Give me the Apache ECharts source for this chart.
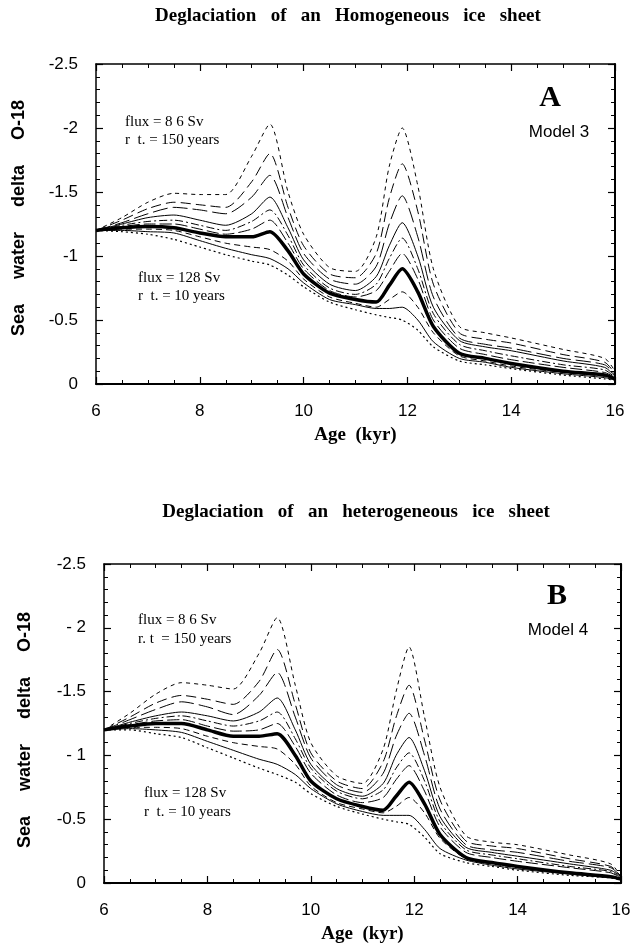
<!DOCTYPE html>
<html>
<head>
<meta charset="utf-8">
<script src="https://cdn.jsdelivr.net/npm/echarts/dist/echarts.min.js"></script>
<style>
  html, body { margin: 0; padding: 0; background: #fff; }
  #chart { width: 637px; height: 946px; }
</style>
</head>
<body>
<div id="chart"></div>
<script>
// age (kyr) sample points shared by all curves
var ages = [6, 6.5, 7, 7.5, 8, 8.5, 9, 9.35, 9.7, 10, 10.5, 11, 11.4, 11.65, 11.9, 12.2, 12.5, 13, 13.5, 14, 15, 15.8, 16];

// panel A - homogeneous ice sheet (Model 3), from flux 8.6 Sv (top) to 128 Sv (bottom)
var a1 = [-1.2, -1.3, -1.42, -1.49, -1.48, -1.48, -1.78, -2.03, -1.5, -1.17, -0.91, -0.88, -1.15, -1.7, -2.0, -1.55, -0.9, -0.45, -0.4, -0.36, -0.27, -0.2, -0.1];
var a2 = [-1.2, -1.28, -1.37, -1.42, -1.4, -1.38, -1.58, -1.8, -1.38, -1.08, -0.86, -0.83, -1.02, -1.45, -1.72, -1.35, -0.78, -0.4, -0.35, -0.32, -0.23, -0.17, -0.08];
var a3 = [-1.2, -1.26, -1.33, -1.38, -1.36, -1.33, -1.46, -1.63, -1.3, -1.02, -0.82, -0.78, -0.92, -1.25, -1.47, -1.15, -0.68, -0.36, -0.31, -0.28, -0.2, -0.15, -0.07];
var a4 = [-1.2, -1.25, -1.3, -1.32, -1.28, -1.24, -1.33, -1.46, -1.22, -0.97, -0.78, -0.73, -0.84, -1.08, -1.26, -1.0, -0.6, -0.34, -0.29, -0.26, -0.18, -0.13, -0.06];
var a5 = [-1.2, -1.24, -1.27, -1.28, -1.24, -1.2, -1.27, -1.36, -1.16, -0.93, -0.75, -0.7, -0.78, -0.98, -1.14, -0.9, -0.55, -0.31, -0.26, -0.22, -0.15, -0.11, -0.05];
var a6 = [-1.2, -1.23, -1.25, -1.25, -1.21, -1.17, -1.21, -1.28, -1.1, -0.9, -0.73, -0.68, -0.73, -0.88, -1.02, -0.82, -0.5, -0.28, -0.23, -0.19, -0.13, -0.09, -0.05];
var a7 = [-1.2, -1.22, -1.23, -1.22, -1.18, -1.15, -1.15, -1.19, -1.04, -0.86, -0.71, -0.66, -0.64, -0.77, -0.9, -0.72, -0.45, -0.24, -0.2, -0.16, -0.1, -0.07, -0.04];
var a8 = [-1.2, -1.21, -1.21, -1.2, -1.15, -1.1, -1.07, -1.05, -0.96, -0.82, -0.68, -0.63, -0.6, -0.66, -0.72, -0.6, -0.4, -0.22, -0.18, -0.14, -0.09, -0.06, -0.04];
var a9 = [-1.2, -1.2, -1.19, -1.18, -1.12, -1.06, -1.01, -0.98, -0.9, -0.79, -0.66, -0.62, -0.59, -0.59, -0.6, -0.5, -0.33, -0.2, -0.17, -0.13, -0.08, -0.05, -0.03];
var a10 = [-1.2, -1.19, -1.17, -1.13, -1.07, -1.01, -0.96, -0.93, -0.85, -0.76, -0.64, -0.58, -0.54, -0.52, -0.5, -0.42, -0.29, -0.18, -0.15, -0.12, -0.07, -0.04, -0.03];

// panel B - heterogeneous ice sheet (Model 4)
var b1 = [-1.2, -1.33, -1.48, -1.57, -1.55, -1.52, -1.8, -2.08, -1.55, -1.1, -0.84, -0.78, -1.05, -1.5, -1.85, -1.3, -0.75, -0.37, -0.32, -0.3, -0.22, -0.15, -0.05];
var b2 = [-1.2, -1.3, -1.41, -1.47, -1.44, -1.4, -1.58, -1.83, -1.4, -1.02, -0.8, -0.74, -0.95, -1.3, -1.55, -1.12, -0.65, -0.33, -0.29, -0.27, -0.19, -0.13, -0.05];
var b3 = [-1.2, -1.28, -1.36, -1.42, -1.38, -1.32, -1.47, -1.65, -1.3, -0.98, -0.77, -0.71, -0.86, -1.15, -1.33, -1.0, -0.58, -0.3, -0.26, -0.24, -0.17, -0.12, -0.05];
var b4 = [-1.2, -1.26, -1.31, -1.34, -1.31, -1.27, -1.34, -1.45, -1.2, -0.93, -0.74, -0.68, -0.78, -1.0, -1.14, -0.88, -0.52, -0.28, -0.24, -0.21, -0.15, -0.1, -0.05];
var b5 = [-1.2, -1.25, -1.29, -1.31, -1.27, -1.23, -1.27, -1.34, -1.13, -0.9, -0.72, -0.66, -0.73, -0.9, -1.02, -0.8, -0.48, -0.26, -0.22, -0.19, -0.13, -0.09, -0.04];
var b6 = [-1.2, -1.24, -1.27, -1.28, -1.23, -1.19, -1.2, -1.25, -1.07, -0.86, -0.69, -0.63, -0.67, -0.81, -0.92, -0.72, -0.44, -0.24, -0.2, -0.17, -0.12, -0.08, -0.04];
var b7 = [-1.2, -1.23, -1.25, -1.25, -1.2, -1.15, -1.15, -1.17, -1.0, -0.8, -0.66, -0.6, -0.57, -0.68, -0.79, -0.62, -0.38, -0.2, -0.16, -0.13, -0.08, -0.05, -0.03];
var b8 = [-1.2, -1.22, -1.22, -1.21, -1.15, -1.1, -1.07, -1.05, -0.93, -0.76, -0.63, -0.58, -0.55, -0.6, -0.67, -0.55, -0.35, -0.19, -0.15, -0.12, -0.08, -0.05, -0.03];
var b9 = [-1.2, -1.21, -1.2, -1.18, -1.11, -1.04, -0.97, -0.93, -0.85, -0.74, -0.62, -0.56, -0.53, -0.53, -0.53, -0.42, -0.27, -0.18, -0.14, -0.11, -0.07, -0.04, -0.03];
var b10 = [-1.2, -1.2, -1.17, -1.14, -1.06, -0.98, -0.9, -0.85, -0.79, -0.7, -0.6, -0.54, -0.5, -0.48, -0.46, -0.36, -0.23, -0.16, -0.13, -0.1, -0.06, -0.04, -0.02];

// tick labels of the delta O-18 axis
var yTicksA = {'-2.5': '-2.5', '-2': '-2', '-1.5': '-1.5', '-1': '-1', '-0.5': '-0.5', '0': '0'};
var yTicksB = {'-2.5': '-2.5', '-2': '- 2', '-1.5': '-1.5', '-1': '- 1', '-0.5': '-0.5', '0': '0'};

// line style of each curve, same order in both panels
var dashes = [[4, 4], [10, 5], [15, 5], 'solid', [8, 3, 2, 3], [12, 4], 'solid', [6, 4], 'solid', [2, 3]];
var widths = [1, 1, 1, 1, 1, 1, 3.5, 1, 1, 1.2];

var sans = 'Liberation Sans';
var serif = 'Liberation Serif';

function xAxes(grid, name) {
    var tick = { inside: true, length: 7, lineStyle: { color: '#000', width: 1.2 } };
    var minor = { show: true, splitNumber: 4, length: 4, lineStyle: { color: '#000', width: 1 } };
    return [{
        gridIndex: grid, type: 'value', min: 6, max: 16, interval: 2, position: 'bottom',
        axisLine: { show: true, onZero: false, lineStyle: { color: '#000', width: 2 } },
        axisTick: tick, minorTick: minor, splitLine: { show: false },
        axisLabel: { color: '#000', fontFamily: sans, fontSize: 17, margin: 19 },
        name: name, nameLocation: 'middle', nameGap: 42,
        nameTextStyle: { color: '#000', fontFamily: serif, fontWeight: 'bold', fontSize: 19 }
    }, {
        gridIndex: grid, type: 'value', min: 6, max: 16, interval: 2, position: 'top',
        axisLine: { show: true, onZero: false, lineStyle: { color: '#000', width: 1.5 } },
        axisTick: tick, minorTick: minor, splitLine: { show: false },
        axisLabel: { show: false }
    }];
}

function yAxes(grid, labels) {
    var tick = { inside: true, length: 7, lineStyle: { color: '#000', width: 1.2 } };
    var minor = { show: true, splitNumber: 5, length: 4, lineStyle: { color: '#000', width: 1 } };
    return [{
        gridIndex: grid, type: 'value', min: -2.5, max: 0, interval: 0.5, inverse: true, position: 'left',
        axisLine: { show: true, onZero: false, lineStyle: { color: '#000', width: 1.5 } },
        axisTick: tick, minorTick: minor, splitLine: { show: false },
        axisLabel: {
            color: '#000', fontFamily: sans, fontSize: 17, margin: 18,
            formatter: function (v) { return labels[String(v)] || String(v); }
        }
    }, {
        gridIndex: grid, type: 'value', min: -2.5, max: 0, interval: 0.5, inverse: true, position: 'right',
        axisLine: { show: true, onZero: false, lineStyle: { color: '#000', width: 2 } },
        axisTick: tick, minorTick: minor, splitLine: { show: false },
        axisLabel: { show: false }
    }];
}

function curves(list, xi, yi) {
    return list.map(function (vals, k) {
        return {
            type: 'line', xAxisIndex: xi, yAxisIndex: yi, smooth: 0.25,
            showSymbol: false, silent: true, animation: false,
            lineStyle: { color: '#000', width: widths[k], type: dashes[k] },
            data: ages.map(function (a, i) { return [a, vals[i]]; }),
            z: k === 6 ? 3 : 2
        };
    });
}

function label(x, y, text, font, size, weight, align, rot) {
    return {
        type: 'text', x: x, y: y, rotation: rot || 0, silent: true,
        style: {
            text: text, fill: '#000', font: (weight || 'normal') + ' ' + size + 'px "' + font + '"',
            textAlign: align || 'left', textVerticalAlign: 'middle'
        }
    };
}

var yName = 'Sea     water     delta     O-18';

var chart = echarts.init(document.getElementById('chart'));
chart.setOption({
    animation: false,
    backgroundColor: '#fff',
    grid: [
        { left: 96, right: 22, top: 64, height: 320 },
        { left: 104, right: 16, top: 564, height: 319 }
    ],
    xAxis: xAxes(0, 'Age  (kyr)').concat(xAxes(1, 'Age  (kyr)')),
    yAxis: yAxes(0, yTicksA).concat(yAxes(1, yTicksB)),
    series: curves([a1, a2, a3, a4, a5, a6, a7, a8, a9, a10], 0, 0)
        .concat(curves([b1, b2, b3, b4, b5, b6, b7, b8, b9, b10], 2, 2)),
    graphic: [
        label(348, 16, 'Deglaciation   of   an   Homogeneous   ice   sheet', serif, 19, 'bold', 'center'),
        label(356, 512, 'Deglaciation   of   an   heterogeneous   ice   sheet', serif, 19, 'bold', 'center'),
        label(19, 218, yName, sans, 18, 'bold', 'center', Math.PI / 2),
        label(25, 730, yName, sans, 18, 'bold', 'center', Math.PI / 2),
        label(550, 98, 'A', serif, 30, 'bold', 'center'),
        label(559, 132, 'Model 3', sans, 17, 'normal', 'center'),
        label(557, 596, 'B', serif, 30, 'bold', 'center'),
        label(558, 630, 'Model 4', sans, 17, 'normal', 'center'),
        label(125, 122, 'flux = 8 6 Sv', serif, 15),
        label(125, 140, 'r  t. = 150 years', serif, 15),
        label(138, 278, 'flux = 128 Sv', serif, 15),
        label(138, 296, 'r  t. = 10 years', serif, 15),
        label(138, 620, 'flux = 8 6 Sv', serif, 15),
        label(138, 639, 'r. t  = 150 years', serif, 15),
        label(144, 793, 'flux = 128 Sv', serif, 15),
        label(144, 812, 'r  t. = 10 years', serif, 15)
    ]
});
</script>
</body>
</html>
